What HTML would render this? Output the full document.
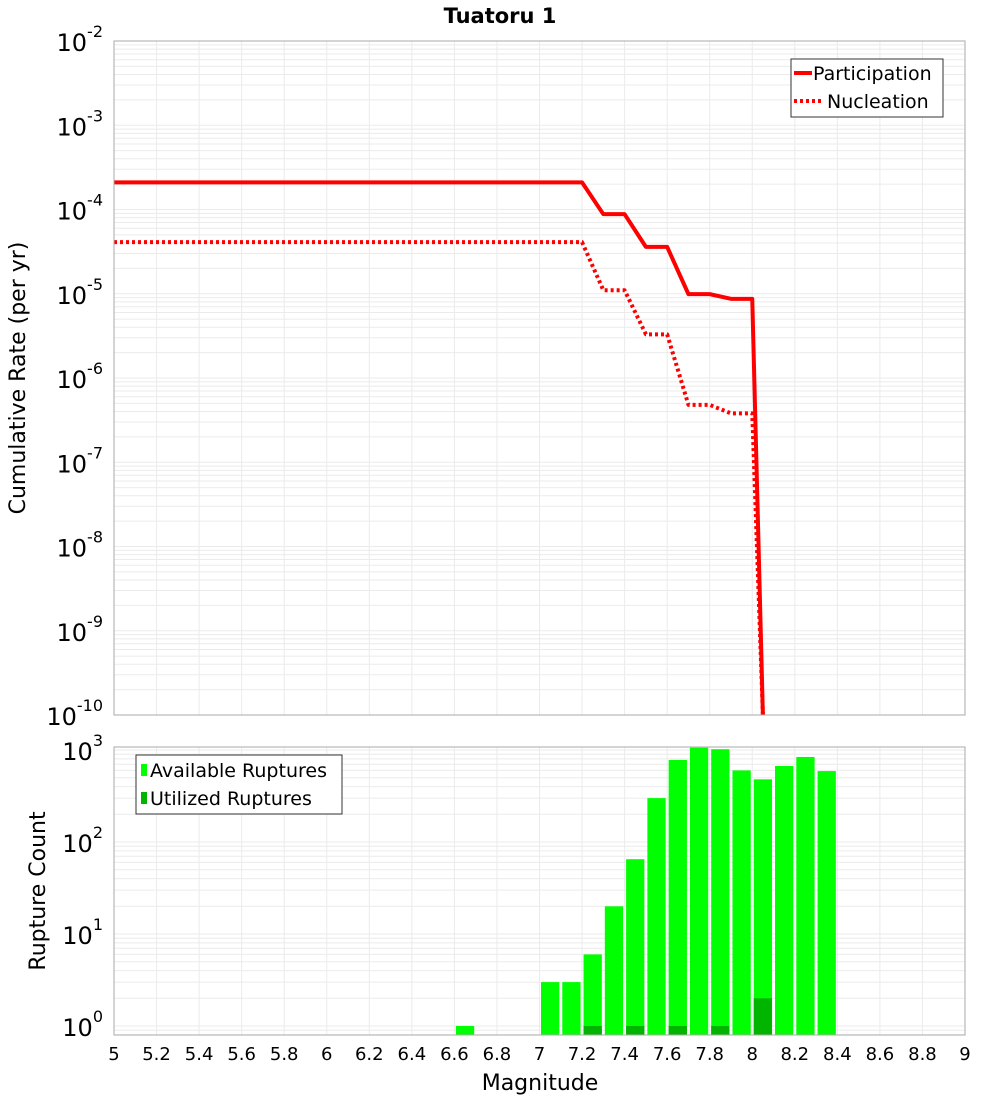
<!DOCTYPE html>
<html><head><meta charset="utf-8"><style>
body{margin:0;background:#fff;font-family:"Liberation Sans","DejaVu Sans",sans-serif;}
svg text{font-family:"DejaVu Sans","Liberation Sans",sans-serif;}
</style></head><body>
<svg id="c" width="1000" height="1100" xmlns="http://www.w3.org/2000/svg">
<text x="500" y="23" text-anchor="middle" font-size="21" font-weight="bold">Tuatoru 1</text>
<g id="topPlot"></g>
<g id="botPlot"></g>
<text transform="translate(25,378) rotate(-90)" text-anchor="middle" font-size="22">Cumulative Rate (per yr)</text>
<text transform="translate(45,891) rotate(-90)" text-anchor="middle" font-size="22">Rupture Count</text>
<text x="540" y="1090" text-anchor="middle" font-size="22">Magnitude</text>
</svg>
<script>
const partMags=[5,7.2,7.3,7.4,7.5,7.6,7.7,7.8,7.9,8.0,8.05];
const partRates=[2.1e-4,2.1e-4,8.8e-5,8.8e-5,3.6e-5,3.6e-5,9.9e-6,9.9e-6,8.7e-6,8.7e-6,1e-10];
const nuclMags=[5,7.2,7.3,7.4,7.5,7.6,7.7,7.8,7.9,8.0,8.05];
const nuclRates=[4.1e-5,4.1e-5,1.1e-5,1.1e-5,3.3e-6,3.3e-6,4.8e-7,4.8e-7,3.8e-7,3.8e-7,1e-10];
const binMags=[6.6,7.0,7.1,7.2,7.3,7.4,7.5,7.6,7.7,7.8,7.9,8.0,8.1,8.2,8.3];
const availCounts=[1,3,3,6,20,65,300,780,1060,1020,600,480,670,840,590];
const usedMags=[7.2,7.4,7.6,7.8,8.0];
const usedCounts=[1,1,1,1,2];
const xTicks=[5,5.2,5.4,5.6,5.8,6,6.2,6.4,6.6,6.8,7,7.2,7.4,7.6,7.8,8,8.2,8.4,8.6,8.8,9];
const topExps=[-2,-3,-4,-5,-6,-7,-8,-9,-10];
const botExps=[3,2,1,0];

const NS='http://www.w3.org/2000/svg';
const X0=114,X1=965;
const xS=m=>X0+(m-5)/4*(X1-X0);
const T0=41,T1=715;
const yT=v=>T0+(-2-Math.log10(v))/8*(T1-T0);
const B0=747,B1=1035,BL0=1026,BD=92;
const yB=v=>BL0-Math.log10(v)*BD;
function mk(p,tag,a){const e=document.createElementNS(NS,tag);for(const k in a)e.setAttribute(k,a[k]);p.appendChild(e);return e;}
const topG=document.getElementById('topPlot'),botG=document.getElementById('botPlot');
const svgRoot=document.getElementById('c');

function grid(g,y0,y1,yfn,emin,emax){
  for(let e=emin;e<emax;e++)for(let k=1;k<10;k++){const yy=yfn(k*Math.pow(10,e));if(yy<y0-0.5||yy>y1+0.5)continue;
    const l=mk(g,'line',{x1:X0,x2:X1,y1:yy,y2:yy,stroke:'#ebebeb','stroke-width':1});
    
    }
  xTicks.forEach(t=>{const l=mk(g,'line',{x1:xS(t),x2:xS(t),y1:y0,y2:y1,stroke:'#ebebeb','stroke-width':1});
    
    });
}
grid(topG,T0,T1,yT,-10,-1);
grid(botG,B0,B1,yB,-1,4);

function line(ms,vs,dash,name){
  const pts=ms.map((m,i)=>xS(m)+','+Math.min(yT(vs[i]),T1+2)).join(' ');
  const a={points:pts,fill:'none',stroke:'#ff0000','stroke-width':4,'stroke-linejoin':'round'};
  if(dash)a['stroke-dasharray']='3,3';
  const p=mk(topG,'polyline',a);
  
  
}
line(nuclMags,nuclRates,true,'nucleation-line');
line(partMags,partRates,false,'participation-line');

binMags.forEach((m,i)=>{const r=mk(botG,'rect',{x:xS(m)+1.5,width:xS(m+0.1)-xS(m)-3,y:yB(availCounts[i]),height:B1-yB(availCounts[i]),fill:'#00ff00'});
  
  });
usedMags.forEach((m,i)=>{const r=mk(botG,'rect',{x:xS(m)+1.5,width:xS(m+0.1)-xS(m)-3,y:yB(usedCounts[i]),height:B1-yB(usedCounts[i]),fill:'#00b400'});
  
  });

[[T0,T1],[B0,B1]].forEach(([a,b])=>{const r=mk(svgRoot,'rect',{x:X0,y:a,width:X1-X0,height:b-a,fill:'none',stroke:'#aaaaaa','stroke-width':1});
  
  });

function expLabel(g,yy,e,name){
  const t=mk(g,'text',{x:103,y:yy+10,'text-anchor':'end','font-size':24});
  
  
  t.appendChild(document.createTextNode('10'));
  const s=mk(t,'tspan',{dy:-14,'font-size':16});s.textContent=String(e);
}
topExps.forEach(e=>expLabel(topG,yT(Math.pow(10,e)),e,'top-y-tick-label'));
botExps.forEach(e=>expLabel(botG,yB(Math.pow(10,e)),e,'bottom-y-tick-label'));
xTicks.forEach(t=>{const tx=mk(botG,'text',{x:xS(t),y:1060,'text-anchor':'middle','font-size':18});
  
  
  tx.textContent=String(t);});
</script>
<svg style="position:absolute;left:0;top:0" width="1000" height="1100" xmlns="http://www.w3.org/2000/svg">
<g>
<rect x="791" y="59" width="152" height="58" fill="#fff" stroke="#333" stroke-width="1"/>
<line x1="794" y1="73" x2="812" y2="73" stroke="#f00" stroke-width="4"/>
<text x="813" y="80" font-size="19">Participation</text>
<line x1="794" y1="101" x2="822" y2="101" stroke="#f00" stroke-width="4" stroke-dasharray="3,3"/>
<text x="827" y="108" font-size="19">Nucleation</text>
</g>
<g>
<rect x="136" y="755" width="206" height="59" fill="#fff" stroke="#333" stroke-width="1"/>
<rect x="141" y="764" width="6" height="12" fill="#00ff00"/>
<text x="150" y="777" font-size="19">Available Ruptures</text>
<rect x="141" y="792" width="6" height="12" fill="#00b400"/>
<text x="150" y="805" font-size="19">Utilized Ruptures</text>
</g>
</svg>
</body></html>
